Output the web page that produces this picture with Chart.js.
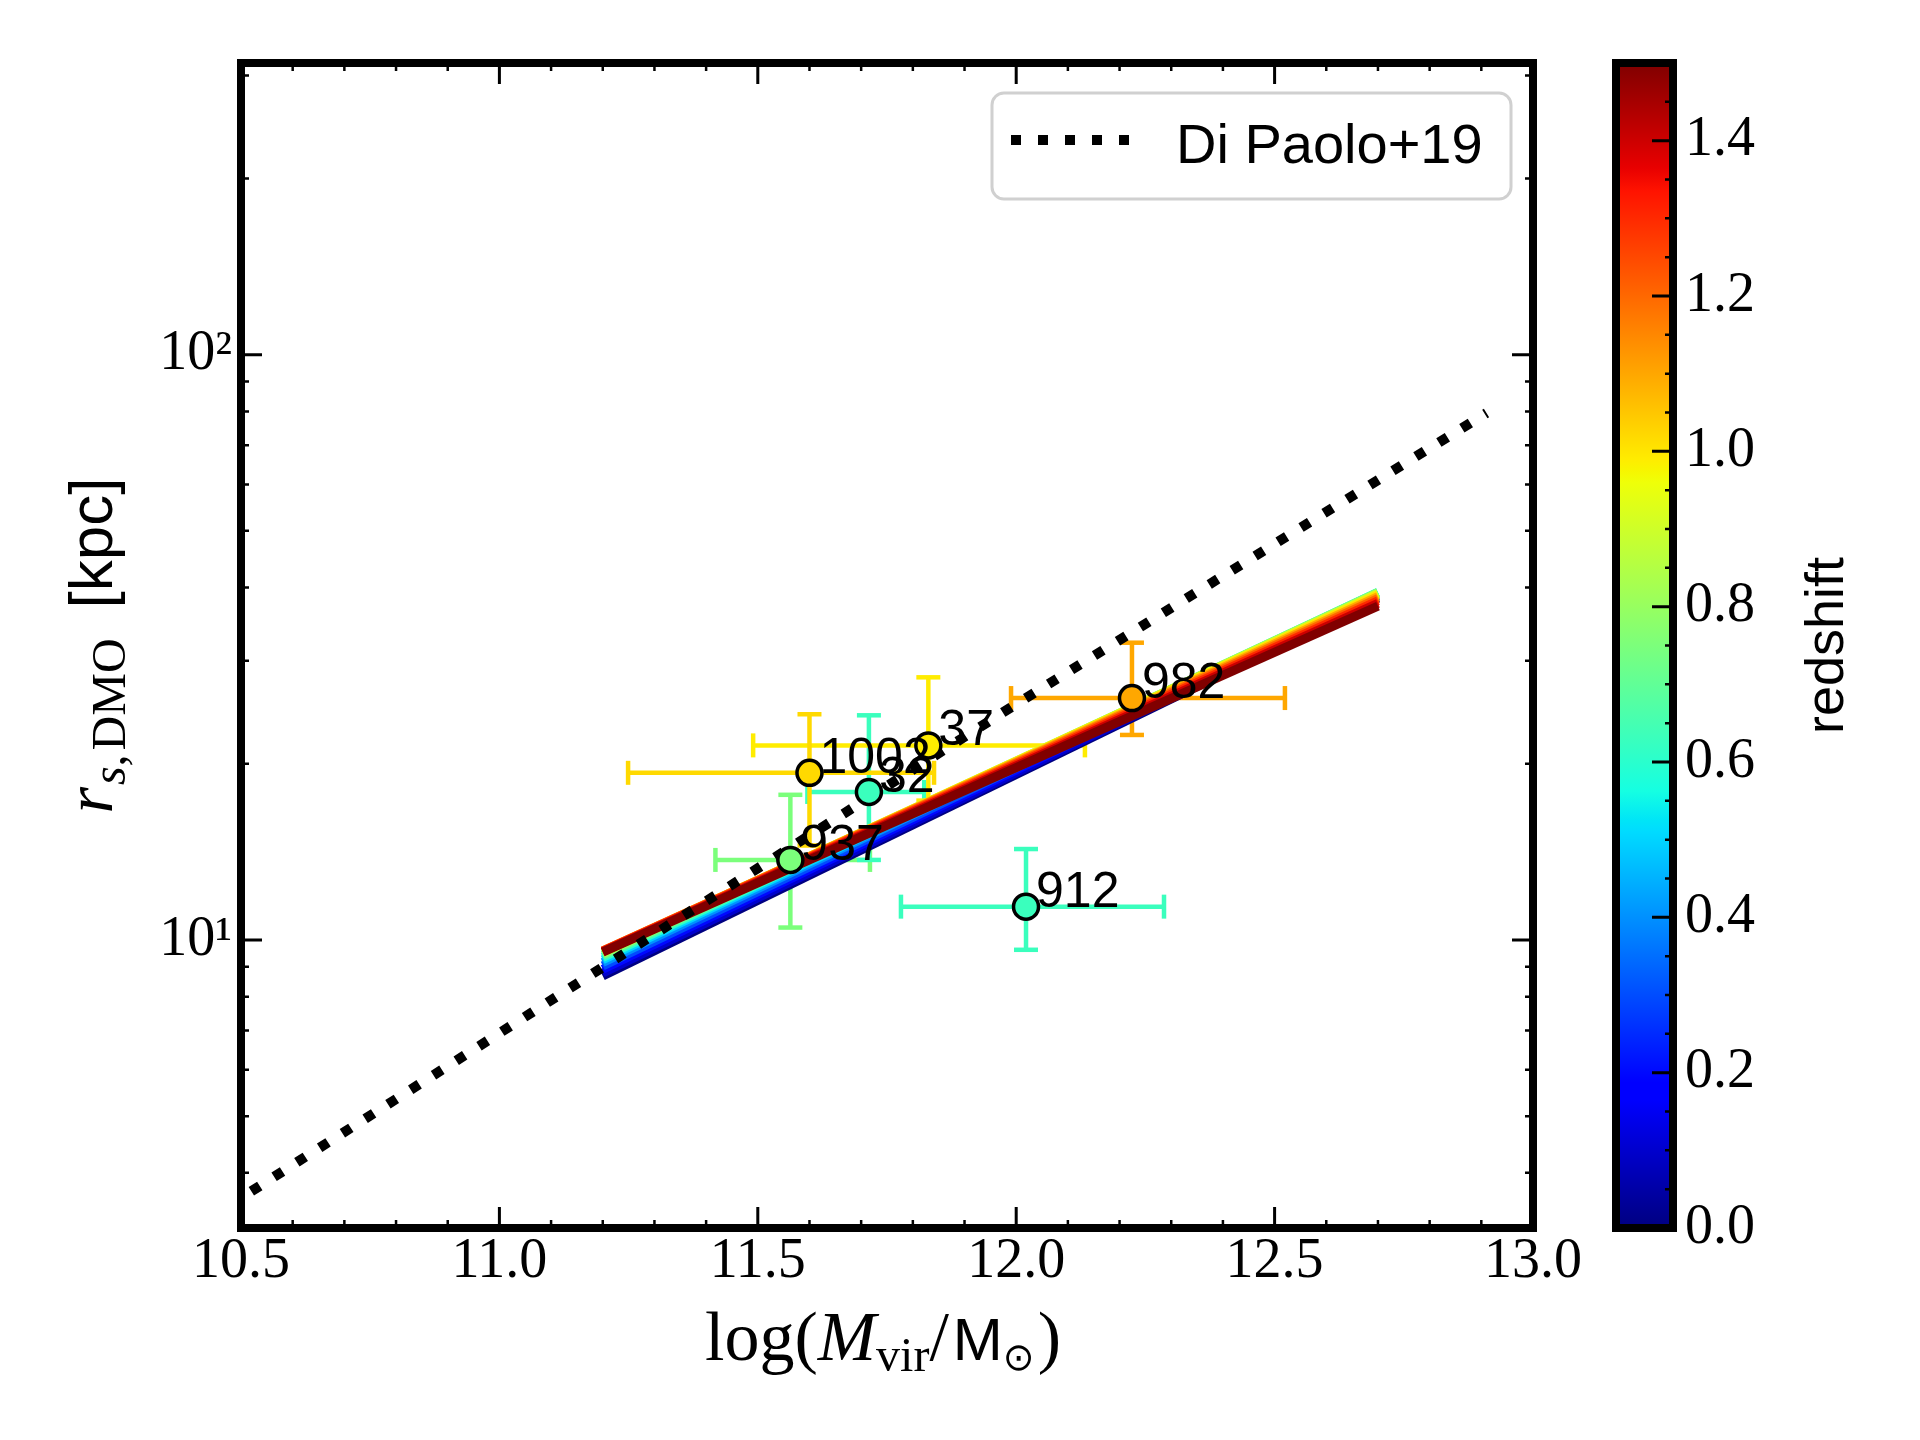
<!DOCTYPE html>
<html>
<head>
<meta charset="utf-8">
<script src="https://cdn.jsdelivr.net/npm/chart.js@4.4.1/dist/chart.umd.min.js"></script>
<style>
  html, body { margin: 0; padding: 0; background: #fff; }
  #wrap { position: relative; width: 1920px; height: 1440px; }
  canvas { position: absolute; top: 0; }
  #mainChart { left: 0; }
  #cbChart { left: 1560px; }
</style>
</head>
<body>
<div id="wrap">
  <canvas id="mainChart" width="1920" height="1440"></canvas>
  <canvas id="cbChart" width="360" height="1440"></canvas>
</div>
<script>
// halos: log mass, scale radius and their error ranges, colour-coded by redshift
const haloNames = ['1002', '37', '32', '937', '912', '982'];
const haloMass = [11.600, 11.830, 11.715, 11.563, 12.019, 12.224];
const haloMassLo = [11.249, 11.491, 11.596, 11.418, 11.777, 11.990];
const haloMassHi = [11.841, 12.133, 11.822, 11.717, 12.286, 12.520];
const haloRs = [19.3, 21.5, 17.9, 13.7, 11.4, 25.9];
const haloRsLo = [14.5, 17.3, 13.7, 10.5, 9.62, 22.4];
const haloRsHi = [24.3, 28.1, 24.2, 17.7, 14.3, 32.2];
const haloRedshift = [1.02, 0.99, 0.63, 0.75, 0.63, 1.10];

// r_s - M relation, one line per redshift
const bandRedshift = [0.0, 0.1, 0.2, 0.3, 0.4, 0.5, 0.6, 0.7, 0.8, 0.9, 1.0, 1.1, 1.2, 1.3, 1.4, 1.5];
const bandMass = [11.2, 12.7];
const bandRsLow = [8.68, 8.78, 8.91, 9.03, 9.15, 9.25, 9.34, 9.41, 9.47, 9.52, 9.55, 9.57, 9.58, 9.57, 9.55, 9.53];
const bandRsHigh = [38.36, 38.47, 38.73, 38.94, 39.11, 39.22, 39.27, 39.26, 39.19, 39.06, 38.86, 38.61, 38.32, 37.98, 37.59, 37.19];

// Di Paolo+19
const diPaoloMass = [10.52, 11.0, 11.5, 12.0, 12.5, 12.91];
const diPaoloRs = [3.72, 6.93, 13.26, 25.3, 47.5, 79.5];

// ticks
const xTicks = [10.5, 11.0, 11.5, 12.0, 12.5, 13.0];
const xMinorTicks = [10.6, 10.7, 10.8, 10.9, 11.1, 11.2, 11.3, 11.4, 11.6, 11.7, 11.8, 11.9,
                     12.1, 12.2, 12.3, 12.4, 12.6, 12.7, 12.8, 12.9];
const yTicks = [10, 100];
const yTickLabels = ['10\u00b9', '10\u00b2'];
const yMinorTicks = [4, 5, 6, 7, 8, 9, 20, 30, 40, 50, 60, 70, 80, 90, 200, 300];
const cbRange = [0, 1.5];
const cbTicks = [0, 0.2, 0.4, 0.6, 0.8, 1.0, 1.2, 1.4];
const cbMinorTicks = [0.05, 0.1, 0.15, 0.25, 0.3, 0.35, 0.45, 0.5, 0.55, 0.65, 0.7, 0.75,
                      0.85, 0.9, 0.95, 1.05, 1.1, 1.15, 1.25, 1.3, 1.35, 1.45];

// matplotlib "jet"
const jetR = [[0, 0], [0.35, 0], [0.66, 1], [0.89, 1], [1, 0.5]];
const jetG = [[0, 0], [0.125, 0], [0.375, 1], [0.64, 1], [0.91, 0], [1, 0]];
const jetB = [[0, 0.5], [0.11, 1], [0.34, 1], [0.65, 0], [1, 0]];
const jetStops = [0, 0.11, 0.125, 0.34, 0.35, 0.375, 0.64, 0.65, 0.66, 0.89, 0.91, 1];

function seg(pts, t) {
    for (let i = 1; i < pts.length; i++) {
        if (t <= pts[i][0]) {
            const [x0, y0] = pts[i - 1];
            const [x1, y1] = pts[i];
            return y0 + (y1 - y0) * (t - x0) / (x1 - x0);
        }
    }
    return pts[pts.length - 1][1];
}

function jet(t) {
    t = Math.min(1, Math.max(0, t));
    const r = Math.round(seg(jetR, t) * 255);
    const g = Math.round(seg(jetG, t) * 255);
    const b = Math.round(seg(jetB, t) * 255);
    return 'rgb(' + r + ',' + g + ',' + b + ')';
}

function zColor(z) {
    return jet((z - cbRange[0]) / (cbRange[1] - cbRange[0]));
}

const serif = '"Liberation Serif", "DejaVu Serif", serif';
const sans = '"Liberation Sans", "DejaVu Sans", sans-serif';

function drawRich(ctx, parts, cx, baseline) {
    let total = 0;
    parts.forEach(p => {
        ctx.font = p.font;
        p.w = ctx.measureText(p.text).width + (p.gap || 0);
        total += p.w;
    });
    let x = cx - total / 2;
    parts.forEach(p => {
        ctx.font = p.font;
        ctx.fillText(p.text, x, baseline + (p.dy || 0));
        x += p.w;
    });
}

function tickMarks(ctx, scale, values, len, width, side, area) {
    ctx.lineWidth = width;
    ctx.beginPath();
    values.forEach(v => {
        const p = scale.getPixelForValue(v);
        if (side === 'bottom') { ctx.moveTo(p, area.bottom); ctx.lineTo(p, area.bottom - len); }
        if (side === 'top') { ctx.moveTo(p, area.top); ctx.lineTo(p, area.top + len); }
        if (side === 'left') { ctx.moveTo(area.left, p); ctx.lineTo(area.left + len, p); }
        if (side === 'right') { ctx.moveTo(area.right, p); ctx.lineTo(area.right - len, p); }
    });
    ctx.stroke();
}

const haloLabels = {
    id: 'haloLabels',
    afterDatasetsDraw(chart) {
        const ctx = chart.ctx;
        const {x, y} = chart.scales;
        ctx.save();
        ctx.fillStyle = '#000';
        ctx.font = '50px ' + sans;
        ctx.textBaseline = 'alphabetic';
        ctx.textAlign = 'left';
        haloNames.forEach((n, i) => {
            ctx.fillText(n, x.getPixelForValue(haloMass[i]) + 10, y.getPixelForValue(haloRs[i]));
        });
        ctx.restore();
    }
};

const mainFrame = {
    id: 'mainFrame',
    afterDraw(chart) {
        const ctx = chart.ctx;
        const a = chart.chartArea;
        const {x, y} = chart.scales;
        ctx.save();
        ctx.strokeStyle = '#000';
        ctx.lineCap = 'butt';
        tickMarks(ctx, x, xTicks, 21, 3, 'bottom', a);
        tickMarks(ctx, x, xTicks, 21, 3, 'top', a);
        tickMarks(ctx, x, xMinorTicks, 8, 2.5, 'bottom', a);
        tickMarks(ctx, x, xMinorTicks, 8, 2.5, 'top', a);
        tickMarks(ctx, y, yTicks, 21, 3, 'left', a);
        tickMarks(ctx, y, yTicks, 21, 3, 'right', a);
        tickMarks(ctx, y, yMinorTicks, 8, 2.5, 'left', a);
        tickMarks(ctx, y, yMinorTicks, 8, 2.5, 'right', a);
        ctx.lineWidth = 8;
        ctx.lineJoin = 'miter';
        ctx.strokeRect(a.left, a.top, a.right - a.left, a.bottom - a.top);

        // legend
        ctx.beginPath();
        ctx.roundRect(992, 93, 519, 106, 12);
        ctx.fillStyle = 'rgba(255,255,255,0.8)';
        ctx.fill();
        ctx.lineWidth = 3;
        ctx.strokeStyle = '#d0d0d0';
        ctx.stroke();
        ctx.beginPath();
        ctx.strokeStyle = '#000';
        ctx.lineWidth = 10;
        ctx.setLineDash([10, 17]);
        ctx.moveTo(1011, 140);
        ctx.lineTo(1131, 140);
        ctx.stroke();
        ctx.setLineDash([]);
        ctx.fillStyle = '#000';
        ctx.font = '56px ' + sans;
        ctx.textAlign = 'left';
        ctx.textBaseline = 'alphabetic';
        ctx.fillText('Di Paolo+19', 1176, 163);

        // axis titles
        const cx = (a.left + a.right) / 2;
        drawRich(ctx, [
            {text: 'log(', font: '70px ' + serif},
            {text: 'M', font: 'italic 70px ' + serif},
            {text: 'vir', font: '48px ' + serif, dy: 11},
            {text: '/', font: '70px ' + serif, gap: 4},
            {text: 'M', font: '60px ' + sans},
            {text: '\u2299', font: '38px "DejaVu Sans", sans-serif', dy: 10, gap: 3},
            {text: ')', font: '70px ' + serif}
        ], cx - 4, 1360);

        ctx.save();
        ctx.translate(112, (a.top + a.bottom) / 2);
        ctx.rotate(-Math.PI / 2);
        drawRich(ctx, [
            {text: 'r', font: 'italic 68px ' + serif, gap: 2},
            {text: 's', font: 'italic 48px ' + serif, dy: 13},
            {text: ',', font: '48px ' + serif, dy: 13, gap: 4},
            {text: 'DMO', font: '48px ' + serif, dy: 13, gap: 30},
            {text: '[kpc]', font: '62px ' + sans}
        ], 0, 0);
        ctx.restore();
        ctx.restore();
    }
};

const datasets = [];
datasets.push({
    label: 'halos',
    data: haloNames.map((n, i) => ({x: haloMass[i], y: haloRs[i]})),
    showLine: false,
    pointStyle: 'circle',
    pointRadius: 12.5,
    pointBackgroundColor: haloRedshift.map(zColor),
    pointBorderColor: '#000',
    pointBorderWidth: 3.5,
    order: 0
});
datasets.push({
    label: 'Di Paolo+19',
    data: diPaoloMass.map((m, i) => ({x: m, y: diPaoloRs[i]})),
    showLine: true,
    borderColor: '#000',
    borderWidth: 10,
    borderDash: [10, 17],
    borderCapStyle: 'butt',
    pointRadius: 0,
    order: 5
});
bandRedshift.forEach((z, i) => {
    datasets.push({
        label: 'z = ' + z.toFixed(1),
        data: [{x: bandMass[0], y: bandRsLow[i]}, {x: bandMass[1], y: bandRsHigh[i]}],
        showLine: true,
        borderColor: zColor(z),
        borderWidth: 9,
        borderCapStyle: 'butt',
        pointRadius: 0,
        order: 25 - i
    });
});
haloNames.forEach((n, i) => {
    const c = zColor(haloRedshift[i]);
    datasets.push({
        label: n + ' xerr',
        data: [{x: haloMassLo[i], y: haloRs[i]}, {x: haloMassHi[i], y: haloRs[i]}],
        showLine: true,
        borderColor: c,
        borderWidth: 4.5,
        pointStyle: 'line',
        pointRadius: 12,
        pointRotation: 90,
        pointBorderColor: c,
        pointBorderWidth: 4.5,
        order: 30
    });
    datasets.push({
        label: n + ' yerr',
        data: [{x: haloMass[i], y: haloRsLo[i]}, {x: haloMass[i], y: haloRsHi[i]}],
        showLine: true,
        borderColor: c,
        borderWidth: 4.5,
        pointStyle: 'line',
        pointRadius: 12,
        pointRotation: 0,
        pointBorderColor: c,
        pointBorderWidth: 4.5,
        order: 30
    });
});

new Chart(document.getElementById('mainChart'), {
    type: 'scatter',
    data: {datasets: datasets},
    options: {
        responsive: false,
        devicePixelRatio: 1,
        animation: false,
        events: [],
        layout: {padding: {left: 0, top: 63, right: 387, bottom: 0}},
        plugins: {legend: {display: false}, tooltip: {enabled: false}},
        scales: {
            x: {
                type: 'linear',
                position: 'bottom',
                min: 10.5,
                max: 13.0,
                afterBuildTicks: s => { s.ticks = xTicks.map(v => ({value: v})); },
                afterFit: s => { s.height = 212; },
                grid: {display: false, drawTicks: false},
                border: {display: false},
                ticks: {
                    autoSkip: false,
                    maxRotation: 0,
                    padding: 6,
                    color: '#000',
                    font: {family: serif, size: 56, lineHeight: 1},
                    callback: v => Number(v).toFixed(1)
                }
            },
            y: {
                type: 'logarithmic',
                position: 'left',
                min: 3.22,
                max: 315,
                afterBuildTicks: s => { s.ticks = yTicks.map(v => ({value: v})); },
                afterFit: s => { s.width = 241; },
                grid: {display: false, drawTicks: false},
                border: {display: false},
                ticks: {
                    autoSkip: false,
                    padding: 9,
                    color: '#000',
                    font: {family: serif, size: 56, lineHeight: 1},
                    callback: (v, i) => yTickLabels[i]
                }
            }
        }
    },
    plugins: [haloLabels, mainFrame]
});

// colour bar
const cbFrame = {
    id: 'cbFrame',
    afterDraw(chart) {
        const ctx = chart.ctx;
        const a = chart.chartArea;
        const y = chart.scales.y;
        ctx.save();
        ctx.strokeStyle = '#000';
        tickMarks(ctx, y, cbTicks, 21, 3, 'right', a);
        tickMarks(ctx, y, cbMinorTicks, 8, 2.5, 'right', a);
        ctx.lineWidth = 8;
        ctx.lineJoin = 'miter';
        ctx.strokeRect(a.left, a.top, a.right - a.left, a.bottom - a.top);
        ctx.translate(283, (a.top + a.bottom) / 2);
        ctx.rotate(-Math.PI / 2);
        ctx.fillStyle = '#000';
        ctx.font = '54px ' + sans;
        ctx.textAlign = 'center';
        ctx.textBaseline = 'alphabetic';
        ctx.fillText('redshift', 0, 0);
        ctx.restore();
    }
};

new Chart(document.getElementById('cbChart'), {
    type: 'bar',
    data: {
        labels: ['redshift'],
        datasets: [{
            data: [[cbRange[0], cbRange[1]]],
            borderWidth: 0,
            barPercentage: 1,
            categoryPercentage: 1,
            backgroundColor: context => {
                const chart = context.chart;
                if (!chart.chartArea) return 'rgba(0,0,0,0)';
                const y = chart.scales.y;
                const g = chart.ctx.createLinearGradient(0, y.getPixelForValue(cbRange[0]), 0, y.getPixelForValue(cbRange[1]));
                jetStops.forEach(t => g.addColorStop(t, jet(t)));
                return g;
            }
        }]
    },
    options: {
        responsive: false,
        devicePixelRatio: 1,
        animation: false,
        events: [],
        layout: {padding: {left: 56, top: 63, right: 0, bottom: 212}},
        plugins: {legend: {display: false}, tooltip: {enabled: false}},
        scales: {
            x: {display: false},
            y: {
                position: 'right',
                min: cbRange[0],
                max: cbRange[1],
                afterBuildTicks: s => { s.ticks = cbTicks.map(v => ({value: v})); },
                afterFit: s => { s.width = 247; },
                grid: {display: false, drawTicks: false},
                border: {display: false},
                ticks: {
                    autoSkip: false,
                    padding: 12,
                    color: '#000',
                    font: {family: serif, size: 56, lineHeight: 1},
                    callback: v => Number(v).toFixed(1)
                }
            }
        }
    },
    plugins: [cbFrame]
});
</script>
</body>
</html>
